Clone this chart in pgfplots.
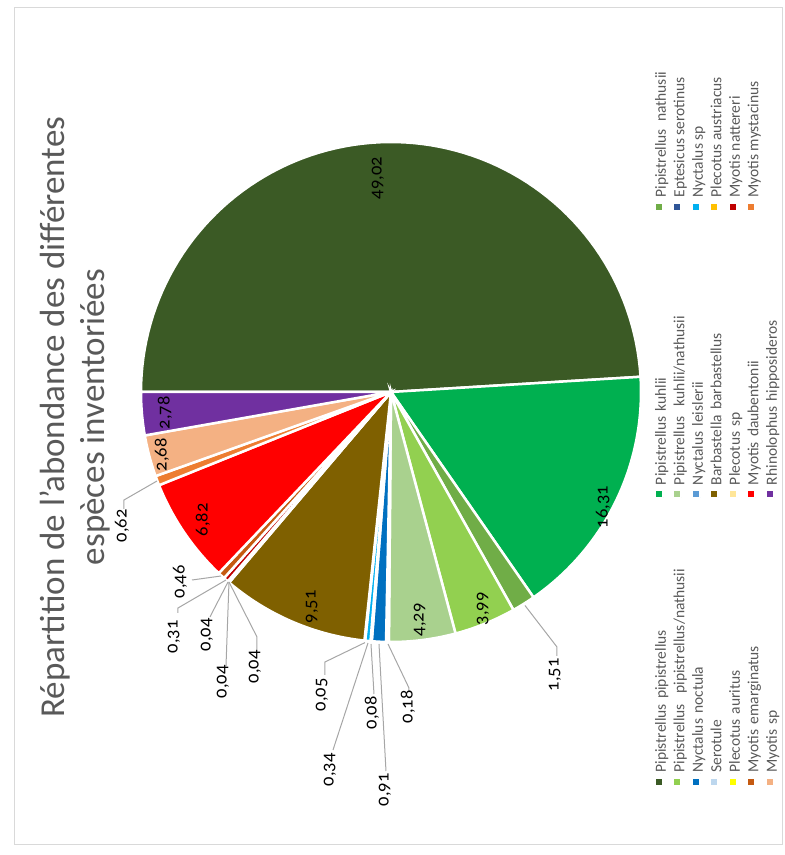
\documentclass[border=0pt]{standalone}
\usepackage{pgfplots}
\pgfplotsset{compat=1.18}
\usepackage{fontspec}
\setmainfont{Carlito}
\newfontfamily\numfont[Numbers=OldStyle]{Carlito}

\definecolor{cpipi}{HTML}{3B5A25}
\definecolor{ckuhl}{HTML}{00B050}
\definecolor{cnath}{HTML}{70AD47}
\definecolor{cpipinath}{HTML}{92D050}
\definecolor{ckuhlnath}{HTML}{A9D18E}
\definecolor{cepte}{HTML}{2F5597}
\definecolor{cnoct}{HTML}{0070C0}
\definecolor{cleis}{HTML}{5B9BD5}
\definecolor{cnycsp}{HTML}{00B0F0}
\definecolor{csero}{HTML}{BDD7EE}
\definecolor{cbarb}{HTML}{7F6000}
\definecolor{cplaus}{HTML}{FFC000}
\definecolor{cplaur}{HTML}{FFFF00}
\definecolor{cplsp}{HTML}{FFE699}
\definecolor{cnatt}{HTML}{C00000}
\definecolor{cemar}{HTML}{C55A11}
\definecolor{cdaub}{HTML}{FF0000}
\definecolor{cmyst}{HTML}{ED7D31}
\definecolor{cmysp}{HTML}{F4B183}
\definecolor{crhin}{HTML}{7030A0}
\definecolor{titlegray}{HTML}{595959}
\definecolor{leggray}{HTML}{595959}
\definecolor{leadgray}{HTML}{A6A6A6}
\definecolor{framegray}{HTML}{D9D9D9}

\tikzset{legw/.style={text width=274pt, align=left}, legn/.style={}}

\def\cum{0}
\def\total{99.98}
% value, colour, legend text, legend cell style
\newcommand\slice[4]{%
  \pgfmathsetmacro\sa{90-\cum*(360/\total)}%
  \pgfmathsetmacro\cumnew{\cum+#1}%
  \pgfmathsetmacro\sb{90-\cumnew*(360/\total)}%
  \xdef\cum{\cumnew}%
  \edef\tmp{\noexpand\addplot[fill=#2, draw=white, line width=2.5pt, domain=\sb:\sa, samples=90] ({250*cos(x)},{250*sin(x)}) -- (axis cs:0,0) -- cycle;}%
  \tmp
  \addlegendentry[#4]{#3}%
}

\begin{document}
\begin{tikzpicture}
\begin{scope}[rotate=90, transform shape]
\begin{axis}[
  scale only axis, width=855pt, height=785pt,
  xmin=-463, xmax=392, ymin=-394, ymax=391,
  hide axis, clip=false,
  legend columns=3,
  legend cell align=left,
  legend style={at={(axis cs:-394,-263)}, anchor=north west, draw=none, fill=none,
    inner sep=0pt, outer sep=0pt, row sep=0pt, column sep=0pt,
    font=\fontsize{15.5}{18.5}\selectfont, text=leggray,
    nodes={inner sep=0pt, text height=12pt, text depth=6.5pt}},
  legend image code/.code={\fill[#1, draw=none] (0pt,1.5pt) rectangle (6pt,7.5pt); \path (0pt,0pt) -- (11pt,0pt);},
]
\path (axis cs:-463,-394) rectangle (axis cs:392,391);
\draw[framegray, line width=1pt] (axis cs:-453,376) rectangle (axis cs:384,-392);

\slice{49.02}{cpipi}{Pipistrellus pipistrellus}{legw}
\slice{16.31}{ckuhl}{Pipistrellus kuhlii}{legw}
\slice{1.51}{cnath}{Pipistrellus~~nathusii}{legn}
\slice{3.99}{cpipinath}{Pipistrellus~~pipistrellus/nathusii}{legw}
\slice{4.29}{ckuhlnath}{Pipistrellus~~kuhlii/nathusii}{legw}
\slice{0.18}{cepte}{Eptesicus serotinus}{legn}
\slice{0.91}{cnoct}{Nyctalus noctula}{legw}
\slice{0.08}{cleis}{Nyctalus leislerii}{legw}
\slice{0.34}{cnycsp}{Nyctalus sp}{legn}
\slice{0.05}{csero}{Serotule}{legw}
\slice{9.51}{cbarb}{Barbastella barbastellus}{legw}
\slice{0.04}{cplaus}{Plecotus austriacus}{legn}
\slice{0.04}{cplaur}{Plecotus auritus}{legw}
\slice{0.04}{cplsp}{Plecotus sp}{legw}
\slice{0.31}{cnatt}{Myotis nattereri}{legn}
\slice{0.46}{cemar}{Myotis emarginatus}{legw}
\slice{6.82}{cdaub}{Myotis daubentonii}{legw}
\slice{0.62}{cmyst}{Myotis mystacinus}{legn}
\slice{2.68}{cmysp}{Myotis sp}{legw}
\slice{2.78}{crhin}{Rhinolophus hipposideros}{legw}

% title
\node[anchor=base, font=\fontsize{35}{42}\selectfont, text=titlegray] at (axis cs:-25,326) {Répartition de l'abondance des différentes};
\node[anchor=base, font=\fontsize{35}{42}\selectfont, text=titlegray] at (axis cs:-25,286) {espèces inventoriées};

% leader lines
\begin{scope}[leadgray, line width=1pt]
\draw (axis cs:-213.5,-134) -- (axis cs:-255,-166) -- (axis cs:-264,-166);
\draw (axis cs:-252,3) -- (axis cs:-296,-18) -- (axis cs:-299,-18);
\draw (axis cs:-252,12) -- (axis cs:-379,5);
\draw (axis cs:-252,20) -- (axis cs:-302,17);
\draw (axis cs:-251,23) -- (axis cs:-358,58);
\draw (axis cs:-250.6,26) -- (axis cs:-270,66) -- (axis cs:-283,66);
\draw (axis cs:-190,162) -- (axis cs:-245,134) -- (axis cs:-258,134);
\draw (axis cs:-190,162) -- (axis cs:-274,165);
\draw (axis cs:-190,163) -- (axis cs:-221,179) -- (axis cs:-225,181);
\draw (axis cs:-188,165) -- (axis cs:-216,213) -- (axis cs:-221,213);
\draw (axis cs:-184,170) -- (axis cs:-188,199);
\draw (axis cs:-89,234) -- (axis cs:-108,267) -- (axis cs:-117,267);
\end{scope}

% data labels
\begin{scope}[font=\numfont\fontsize{18.5}{20}\selectfont, text=black]
\node at (axis cs:214,13) {49,02};
\node at (axis cs:-115,-212) {16,31};
\node at (axis cs:-283,-164) {1,51};
\node at (axis cs:-217,-92) {3,99};
\node at (axis cs:-228,-29) {4,29};
\node at (axis cs:-315,-17) {0,18};
\node at (axis cs:-398,6) {0,91};
\node at (axis cs:-321,19) {0,08};
\node at (axis cs:-378,61) {0,34};
\node at (axis cs:-303,69) {0,05};
\node at (axis cs:-215,79) {9,51};
\node at (axis cs:-275,136) {0,04};
\node at (axis cs:-290,168) {0,04};
\node at (axis cs:-243,184) {0,04};
\node at (axis cs:-245,217) {0,31};
\node at (axis cs:-190,211) {0,46};
\node at (axis cs:-128,188) {6,82};
\node at (axis cs:-134,269) {0,62};
\node at (axis cs:-63,229) {2,68};
\node at (axis cs:-21,226) {2,78};
\end{scope}
\end{axis}
\end{scope}
\end{tikzpicture}
\end{document}
